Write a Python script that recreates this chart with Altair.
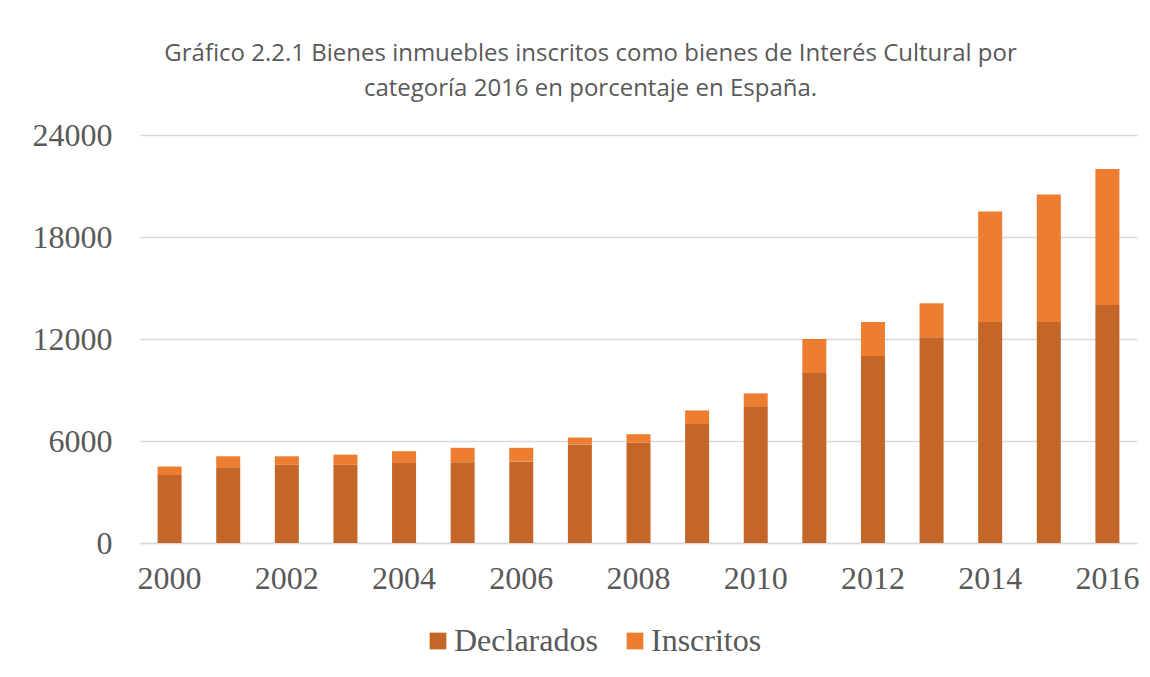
import altair as alt
import pandas as pd

years = [str(y) for y in range(2000, 2017)]
declarados = [4000, 4450, 4600, 4600, 4700, 4750, 4800, 5800, 5900, 7000, 8000, 10000, 11000, 12100, 13000, 13000, 14000]
inscritos = [500, 650, 500, 600, 700, 850, 800, 400, 500, 800, 800, 2000, 2000, 2000, 6500, 7500, 8000]
series = ["Declarados", "Inscritos"]
colors = ["#C46628", "#ED7D31"]
y_ticks = [0, 6000, 12000, 18000, 24000]

rows = []
for i, yr in enumerate(years):
    rows.append({"year": yr, "serie": "Declarados", "value": declarados[i], "ord": 0})
    rows.append({"year": yr, "serie": "Inscritos", "value": inscritos[i], "ord": 1})
df = pd.DataFrame(rows)

chart = alt.Chart(df).mark_bar(size=24).encode(
    x=alt.X("year:O", title=None, sort=years,
            scale=alt.Scale(paddingInner=0.59, paddingOuter=0.3),
            axis=alt.Axis(labelAngle=0, labelFont="Liberation Serif", labelFontSize=32,
                          labelColor="#595959", labelPadding=20, ticks=False,
                          domainColor="#D9D9D9", domainWidth=1.5,
                          labelExpr="toNumber(datum.value) % 2 == 0 ? datum.label : ''")),
    y=alt.Y("value:Q", title=None, stack="zero",
            scale=alt.Scale(domain=[0, 24000], nice=False),
            axis=alt.Axis(values=y_ticks, format="d", labelFont="Liberation Serif",
                          labelFontSize=32, labelColor="#595959", labelPadding=28,
                          ticks=False, domain=False, gridColor="#D9D9D9", gridWidth=1.5)),
    color=alt.Color("serie:N", sort=series,
                    scale=alt.Scale(domain=series, range=colors),
                    legend=alt.Legend(title=None, orient="none", direction="horizontal",
                                      legendX=282, legendY=490, symbolType="square",
                                      symbolSize=280, symbolStrokeWidth=0,
                                      labelFont="Liberation Serif", labelFontSize=32,
                                      labelColor="#595959", labelOffset=0,
                                      columnPadding=21)),
    order=alt.Order("ord:Q"),
).properties(
    width=997, height=408,
    autosize=alt.AutoSizeParams(type="none"),
    padding={"left": 132, "top": 127, "right": 5, "bottom": 125},
    title=alt.Title(["Gráfico 2.2.1 Bienes inmuebles inscritos como bienes de Interés Cultural por",
                     "categoría 2016 en porcentaje en España."],
                    font="Open Sans", fontSize=24, fontWeight="normal", color="#595959",
                    anchor="middle", dx=-48, offset=18, lineHeight=35),
).configure_view(stroke=None)

chart.save("out.html", embed_options={"renderer": "svg", "actions": False})
